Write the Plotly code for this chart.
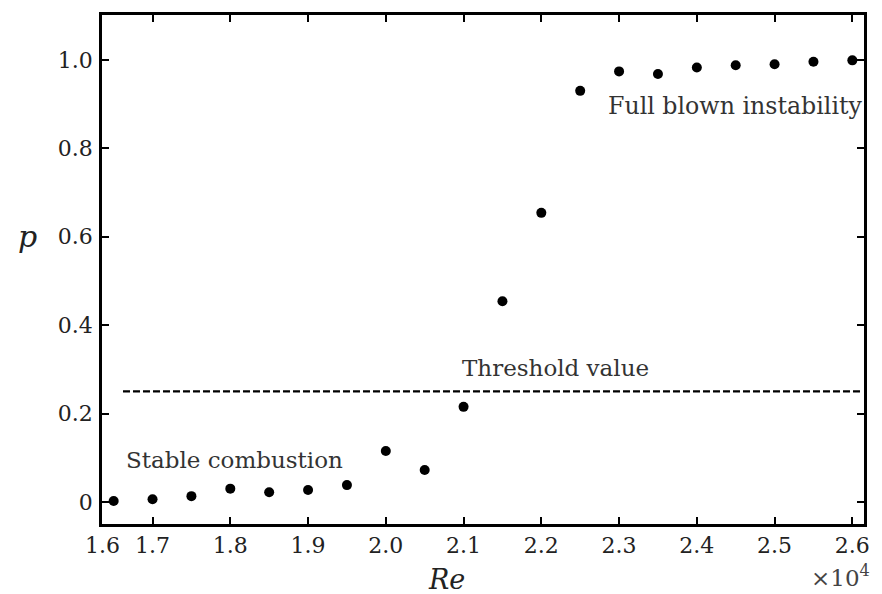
import plotly.graph_objects as go

# Data
re_values = [1.65, 1.70, 1.75, 1.80, 1.85, 1.90, 1.95, 2.00, 2.05, 2.10,
             2.15, 2.20, 2.25, 2.30, 2.35, 2.40, 2.45, 2.50, 2.55, 2.60]
p_values = [0.002, 0.006, 0.013, 0.030, 0.022, 0.027, 0.038, 0.115, 0.072, 0.215,
            0.454, 0.654, 0.930, 0.974, 0.968, 0.983, 0.988, 0.990, 0.996, 0.999]
threshold = 0.25
x_tick_vals = [1.6355, 1.7, 1.8, 1.9, 2.0, 2.1, 2.2, 2.3, 2.4, 2.5, 2.6]
x_tick_text = ["1.6", "1.7", "1.8", "1.9", "2.0", "2.1", "2.2", "2.3", "2.4", "2.5", "2.6"]
y_tick_vals = [0, 0.2, 0.4, 0.6, 0.8, 1.0]
y_tick_text = ["0", "0.2", "0.4", "0.6", "0.8", "1.0"]

SERIF = "DejaVu Serif"
X_RANGE = [1.635, 2.615]
Y_RANGE = [-0.05, 1.1016]

fig = go.Figure()

fig.add_trace(go.Scatter(
    x=[1.662, 2.613], y=[threshold, threshold], mode="lines",
    line=dict(color="black", width=2.2, dash="7px,3px"),
    hoverinfo="skip", showlegend=False,
))

fig.add_trace(go.Scatter(
    x=re_values, y=p_values, mode="markers",
    marker=dict(color="black", size=10),
    showlegend=False,
))

axis_common = dict(
    showline=True, linecolor="black", linewidth=2.5, mirror="ticks",
    ticks="inside", ticklen=7, tickwidth=2, tickcolor="black",
    showgrid=False, zeroline=False,
    tickfont=dict(family=SERIF, size=22, color="#222"),
)

fig.update_xaxes(range=X_RANGE, tickmode="array", tickvals=x_tick_vals,
                 ticktext=x_tick_text, ticklabelstandoff=0, **axis_common)
fig.update_yaxes(range=Y_RANGE, tickmode="array", tickvals=y_tick_vals,
                 ticktext=y_tick_text, ticklabelstandoff=2, **axis_common)

ann_font = dict(family=SERIF, size=23, color="#333")
fig.add_annotation(x=1.663, y=0.095, xref="x", yref="y", text="Stable combustion",
                   showarrow=False, xanchor="left", yanchor="middle", font=ann_font)
fig.add_annotation(x=2.096, y=0.302, xref="x", yref="y", text="Threshold value",
                   showarrow=False, xanchor="left", yanchor="middle", font=ann_font)
fig.add_annotation(x=2.283, y=0.896, xref="x", yref="y", text="Full blown instability",
                   showarrow=False, xanchor="left", yanchor="middle",
                   font=dict(family=SERIF, size=23.7, color="#333"))

fig.add_annotation(x=-0.0977, y=0.565, xref="paper", yref="paper", text="<i>p</i>",
                   showarrow=False, xanchor="center", yanchor="middle",
                   font=dict(family=SERIF, size=30, color="#222"))
fig.add_annotation(x=0.452, y=-0.11, xref="paper", yref="paper", text="<i>Re</i>",
                   showarrow=False, xanchor="center", yanchor="middle",
                   font=dict(family=SERIF, size=27, color="#222"))
fig.add_annotation(x=1.0104, y=-0.103, xref="paper", yref="paper", text="×10<sup>4</sup>",
                   showarrow=False, xanchor="right", yanchor="middle",
                   font=dict(family=SERIF, size=23, color="#444"))

fig.update_layout(
    width=882, height=594,
    margin=dict(l=102, r=12, t=14, b=70),
    paper_bgcolor="white", plot_bgcolor="white",
)

fig.write_html("out.html")
